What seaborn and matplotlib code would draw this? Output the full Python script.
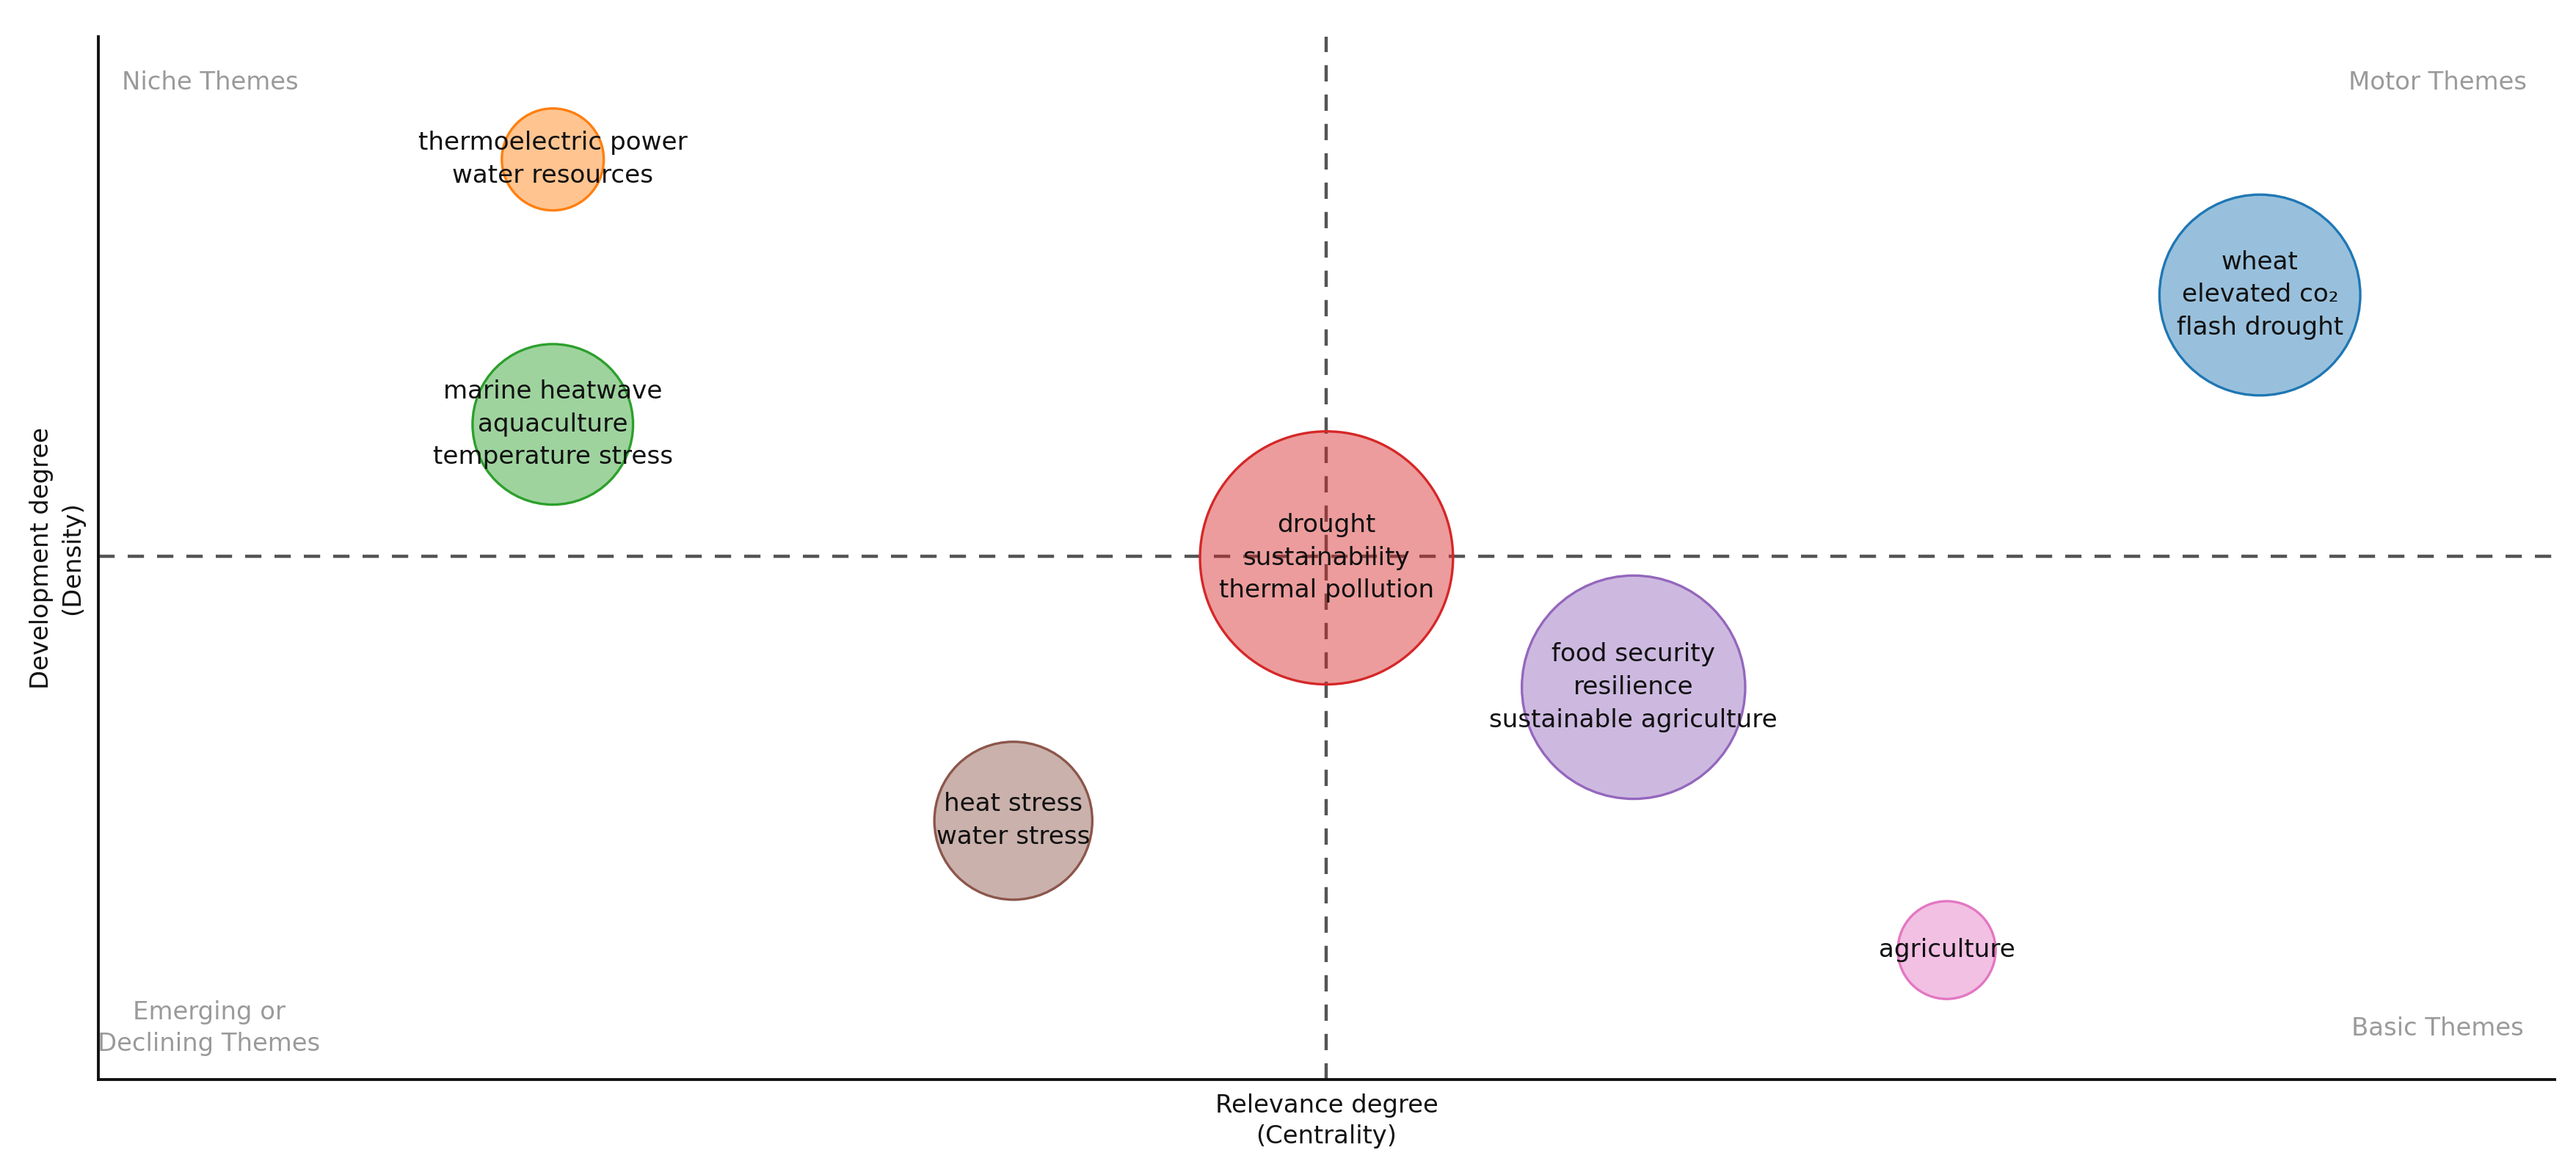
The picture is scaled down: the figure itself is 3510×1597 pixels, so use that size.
import matplotlib
matplotlib.use('Agg')
import matplotlib.pyplot as plt
import numpy as np
import pandas as pd
import seaborn as sns

# clusters of the thematic map
clusters = ['wheat\nelevated co₂\nflash drought',
            'thermoelectric power\nwater resources',
            'marine heatwave\naquaculture\ntemperature stress',
            'drought\nsustainability\nthermal pollution',
            'food security\nresilience\nsustainable agriculture',
            'heat stress\nwater stress',
            'agriculture']
centrality = [4.77, 1.99, 1.99, 3.25, 3.75, 2.74, 4.26]
density = [47.6, 54.1, 41.4, 35.0, 28.8, 22.4, 16.2]
freq = [97, 25, 62, 154, 120, 60, 23]

quadrants = ['Niche Themes', 'Motor Themes', 'Emerging or\nDeclining Themes', 'Basic Themes']

df = pd.DataFrame({'cluster': clusters, 'centrality': centrality,
                   'density': density, 'freq': freq})

sns.set_style('white')
plt.rcParams['font.family'] = ['DejaVu Sans']

fig = plt.figure(figsize=(17.55, 7.985), dpi=200)
ax = fig.add_axes([0.0382, 0.079, 0.9535, 0.890])

# mean lines splitting the quadrants
ax.axvline(df['centrality'].mean(), color='#555555', lw=1.6, ls=(0, (5, 4)), zorder=1)
ax.axhline(df['density'].mean(), color='#555555', lw=1.6, ls=(0, (5, 4)), zorder=1)

sns.scatterplot(data=df, x='centrality', y='density', hue='cluster', size='freq',
                sizes=(0, 15400), size_norm=(0, 154), palette='tab10',
                legend=False, ax=ax, linewidth=1.2, zorder=2)

# solid edges, translucent fill
coll = ax.collections[0]
fc = coll.get_facecolors().copy()
coll.set_edgecolor(fc.copy())
fc[:, 3] = 0.46
coll.set_facecolor(fc)

for _, r in df.iterrows():
    ax.text(r['centrality'], r['density'], r['cluster'], ha='center', va='center',
            fontsize=12.3, color='#111111', linespacing=1.45, zorder=3)

qc = '#9a9a9a'
ax.text(0.0094, 0.956, quadrants[0], transform=ax.transAxes, ha='left', va='center', fontsize=12.2, color=qc)
ax.text(0.9886, 0.956, quadrants[1], transform=ax.transAxes, ha='right', va='center', fontsize=12.2, color=qc)
ax.text(0.045, 0.049, quadrants[2], transform=ax.transAxes, ha='center', va='center', fontsize=12.2,
        color=qc, linespacing=1.4)
ax.text(0.9873, 0.049, quadrants[3], transform=ax.transAxes, ha='right', va='center', fontsize=12.2, color=qc)

ax.set_xlim(1.25, 5.25)
ax.set_ylim(10, 60)
ax.set_xticks([])
ax.set_yticks([])
sns.despine(ax=ax)
for s in ['left', 'bottom']:
    ax.spines[s].set_color('#111111')
    ax.spines[s].set_linewidth(1.4)

ax.set_xlabel('Relevance degree\n(Centrality)', fontsize=12.2, color='#111111', labelpad=7,
              linespacing=1.35)
ax.set_ylabel('Development degree\n(Density)', fontsize=12.2, color='#111111', labelpad=7,
              linespacing=1.35)

fig.savefig('out.png', dpi=200, facecolor='white')
